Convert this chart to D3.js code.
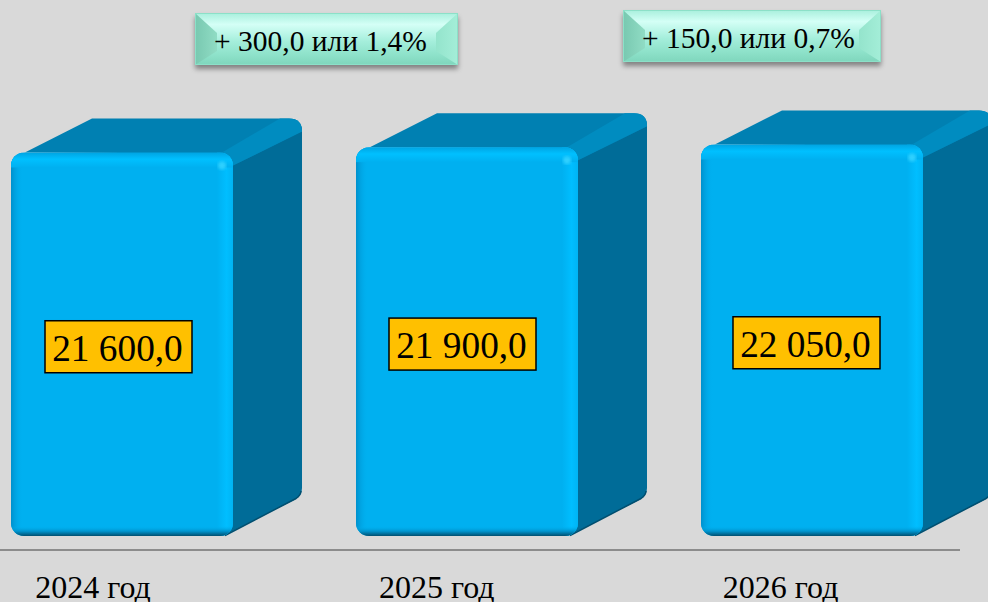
<!DOCTYPE html>
<html><head><meta charset="utf-8">
<style>html,body{margin:0;padding:0;background:#d9d9d9;overflow:hidden}svg{display:block}text{font-family:"Liberation Serif",serif;fill:#000}</style>
<script src="https://cdn.jsdelivr.net/npm/d3@7"></script></head><body>
<script>
const years = ["2024 год","2025 год","2026 год"];
const values = [21600,21900,22050];
const valueLabels = ["21 600,0","21 900,0","22 050,0"];
const changeLabels = ["+ 300,0 или 1,4%","+ 150,0 или 0,7%"];
const changeBoxes = [[195,13,263,52],[623,10,258,52]];

const svg = d3.select("body").append("svg").attr("width",988).attr("height",602);
svg.append("rect").attr("width",988).attr("height",602).attr("fill","#d9d9d9");
const defs = svg.append("defs");
function grad(id,x2,y2,stops){
  const g=defs.append("linearGradient").attr("id",id).attr("x1",0).attr("y1",0).attr("x2",x2).attr("y2",y2);
  stops.forEach(s=>g.append("stop").attr("offset",s[0]).attr("stop-color",s[1]).attr("stop-opacity",s[2]===undefined?1:s[2]));
}
grad("gTopBand",0,1,[[0,"#00a4e2"],[.45,"#00c0ff"],[1,"#00b0f0"]]);
grad("gRightBand",1,0,[[0,"#00b0f0"],[.6,"#00beff"],[1,"#00b4f4"]]);
grad("gLeftBand",1,0,[[0,"#0090cc"],[1,"#00b0f0",0]]);
grad("gBottomBand",0,1,[[0,"#00b0f0",0],[.55,"#0090c8"],[1,"#004f70"]]);
grad("gFace",0,1,[[0,"#a8efdc"],[.22,"#d4fff6"],[.55,"#a4eedb"],[.8,"#8ee2ca"],[1,"#7fd6bc"]]);
grad("gLeftBevel",1,0,[[0,"#78c8b0"],[1,"#90dcc4"]]);
grad("gRightBevel",1,0,[[0,"#94e4cc"],[1,"#a4eed8"]]);
const f=defs.append("filter").attr("id","sh").attr("x","-5%").attr("y","-20%").attr("width","110%").attr("height","150%");
f.append("feDropShadow").attr("dx",0).attr("dy",4).attr("stdDeviation",2.5).attr("flood-color","#000").attr("flood-opacity",.4);
const soft=defs.append("filter").attr("id","soft").attr("x","-10%").attr("y","-10%").attr("width","120%").attr("height","120%");
soft.append("feGaussianBlur").attr("stdDeviation",1.6);

const baseY = 536;
const x = d3.scaleBand().domain(years).range([11,923]).paddingInner(0.3565).paddingOuter(0);
const y = d3.scaleLinear().domain([0,d3.max(values)]).range([baseY,144.5]);
const dx = 69, dy = 34, r = 13;

const bars = svg.selectAll("g.bar").data(years.map((d,i)=>({year:d,value:values[i],label:valueLabels[i],i}))).join("g").attr("class","bar");
bars.each(function(d){
  const g=d3.select(this), x0=x(d.year), x1=x0+x.bandwidth(), top=y(d.value), w=x.bandwidth();
  g.append("path").attr("fill","#006c98").attr("d",
    `M${x1-12},${top+6} L${x1+dx-6},${top-dy+4} Q${x1+dx},${top-dy+4} ${x1+dx},${top-dy+13} L${x1+dx},${baseY-48} Q${x1+dx},${baseY-41} ${x1+dx-6},${baseY-37} L${x1-10},${baseY} Z`);
  g.append("path").attr("fill","none").attr("stroke","#004f70").attr("stroke-width",1.5)
    .attr("d",`M${x1+dx-1},${baseY-45} Q${x1+dx-1},${baseY-41} ${x1+dx-6},${baseY-37.5} L${x1-8},${baseY-.5}`);
  g.append("path").attr("fill","#0080b2").attr("d",
    `M${x0+2},${top+6} L${x0+dx+12},${top-dy} L${x1+dx-13},${top-dy} Q${x1+dx},${top-dy} ${x1+dx},${top-dy+13} L${x1},${top+13} L${x1-10},${top+1} L${x0+14},${top} Z`);
  g.append("path").attr("fill","#008cc0").attr("d",
    `M${x1-11},${top} L${x1+dx-22},${top-dy} L${x1+dx-13},${top-dy} Q${x1+dx},${top-dy} ${x1+dx},${top-dy+13} L${x1},${top+13} Z`);
  const cid="fc"+d.i;
  defs.append("clipPath").attr("id",cid).append("rect").attr("x",x0).attr("y",top).attr("width",w).attr("height",baseY-top).attr("rx",r).attr("ry",r);
  const fg=g.append("g").attr("clip-path",`url(#${cid})`);
  fg.append("rect").attr("x",x0).attr("y",top).attr("width",w).attr("height",baseY-top).attr("fill","#00b0f0");
  fg.append("rect").attr("x",x0).attr("y",top).attr("width",12).attr("height",baseY-top).attr("fill","url(#gLeftBand)");
  fg.append("rect").attr("x",x1-16).attr("y",top).attr("width",16).attr("height",baseY-top).attr("fill","url(#gRightBand)");
  fg.append("rect").attr("x",x0).attr("y",top).attr("width",w).attr("height",15).attr("fill","url(#gTopBand)");
  fg.append("circle").attr("cx",x1-11).attr("cy",top+13).attr("r",4).attr("fill","#2fd0ff").attr("filter","url(#soft)");
  fg.append("rect").attr("x",x0).attr("y",baseY-10).attr("width",w).attr("height",10).attr("fill","url(#gBottomBand)");
  const cy=(top+baseY)/2+2.5, bw=147, bh=52, bx=x0+34-d.i;
  g.append("rect").attr("x",bx).attr("y",cy-bh/2).attr("width",bw).attr("height",bh).attr("fill","#ffc000").attr("stroke","#000").attr("stroke-width",1.5);
  g.append("text").attr("class","val").attr("x",bx+bw/2-1).attr("y",cy+14).attr("text-anchor","middle").attr("font-size",37.3).text(d.label);
  g.append("text").attr("class","cat").attr("x",x0+w/2-29-d.i*1.2).attr("y",598).attr("text-anchor","middle").attr("font-size",32).text(d.year);
});

const axisX = d3.scaleLinear().domain([0,1]).range([0,960]);
svg.append("line").attr("x1",axisX(0)).attr("x2",axisX(1)).attr("y1",550).attr("y2",550).attr("stroke","#8c8c8c").attr("stroke-width",2);

const ch = svg.selectAll("g.ch").data(changeLabels.map((t,i)=>({t,b:changeBoxes[i]}))).join("g").attr("class","ch");
ch.each(function(d){
  const [bx,by,w,h]=d.b, g=d3.select(this), xb=22, yt=20, yb=14;
  g.append("rect").attr("x",bx).attr("y",by).attr("width",w).attr("height",h).attr("fill","url(#gFace)").attr("filter","url(#sh)");
  g.append("path").attr("fill","url(#gLeftBevel)").attr("d",`M${bx},${by} L${bx+xb},${by+yt} L${bx+xb},${by+h-yb} L${bx},${by+h} Z`);
  g.append("path").attr("fill","url(#gRightBevel)").attr("d",`M${bx+w},${by} L${bx+w-xb},${by+yt} L${bx+w-xb},${by+h-yb} L${bx+w},${by+h} Z`);
  g.append("rect").attr("x",bx+.5).attr("y",by+.5).attr("width",w-1).attr("height",h-1).attr("fill","none").attr("stroke","#8ce0c8").attr("stroke-width",1);
  g.append("text").attr("x",bx+125.5).attr("y",by+h/2+12).attr("text-anchor","middle").attr("font-size",29.5).text(d.t);
});
</script></body></html>
